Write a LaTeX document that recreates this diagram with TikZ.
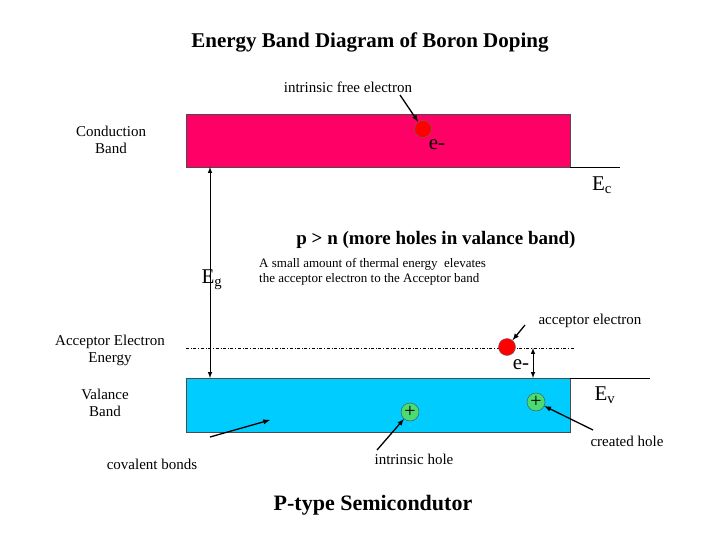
\documentclass[tikz,border=0pt]{standalone}
\usepackage{fontspec}
\setmainfont{Liberation Serif}
\begin{document}
\begin{tikzpicture}[x=1pt,y=-1pt,
  lbl/.style={inner sep=0pt,font=\fontsize{15}{17}\selectfont,align=center},
  arr/.style={-latex,line width=1.3pt},
  dbl/.style={latex-latex,line width=1pt},
  elec/.style={circle,draw=black!60,fill=red,minimum size=17pt,inner sep=0pt},
  hole/.style={circle,draw=black!70,fill=green!60!teal!70,minimum size=18pt,inner sep=0pt,font=\fontsize{20}{20}\selectfont}]
\useasboundingbox (0,0) rectangle (720,540);
\fill[white] (0,0) rectangle (720,540);
\definecolor{cb}{HTML}{FF0066}\definecolor{vb}{HTML}{00CCFF}
\draw[fill=cb,draw=black!70] (186,114) rectangle (570,167);
\draw[fill=vb,draw=black!70] (186,378) rectangle (570,432);
\draw (570,167) -- (620,167);
\draw (570,378) -- (650,378);
\draw[dash dot] (186,348) -- (575,348);
\coordinate (ctop) at (210,167); \coordinate (vtop) at (210,378);
\draw[dbl] (ctop) -- (vtop);
\coordinate (at) at (533,348); \coordinate (ab) at (533,378);
\draw[dbl] (at) -- (ab);
\node[elec] (ce) at (423,129) {};
\node[elec] (ae) at (507,347) {};
\node[hole] (h1) at (410,412) {+};
\node[hole] (h2) at (536,402) {+};
\node[lbl,font=\bfseries\fontsize{21}{24}\selectfont] (title) at (370,42) {Energy Band Diagram of Boron Doping};
\node[lbl] (ife) at (348,87) {intrinsic free electron};
\draw[arr] (400,95) -- (ce);
\node[lbl,font=\fontsize{21}{21}\selectfont] (e1) at (437,145) {e-};
\node[lbl] (cond) at (111,140) {Conduction\\Band};
\node[lbl,font=\fontsize{21}{21}\selectfont] (ec) at (602,185) {E\textsubscript{c}};
\node[lbl,font=\bfseries\fontsize{19}{21}\selectfont] (pn) at (436,240) {p > n (more holes in valance band)};
\node[lbl,font=\fontsize{21}{21}\selectfont] (eg) at (212,280) {E\textsubscript{g}};
\node[lbl,font=\fontsize{13}{15}\selectfont,align=left,anchor=west] (small) at (259,272) {A small amount of thermal energy\ \ elevates\\the acceptor electron to the Acceptor band};
\node[lbl] (accl) at (590,321) {acceptor electron};
\draw[arr] (525,325) -- (ae);
\node[lbl,font=\fontsize{21}{21}\selectfont] (e2) at (521,365) {e-};
\node[lbl] (aee) at (110,350) {Acceptor Electron\\Energy};
\node[lbl] (val) at (105,403) {Valance\\Band};
\node[lbl,font=\fontsize{21}{21}\selectfont] (ev) at (605,395) {E\textsubscript{v}};
\node[lbl] (cov) at (152,464) {covalent bonds};
\coordinate (covt) at (270,420);
\draw[arr] (210,437) -- (covt);
\node[lbl] (ih) at (414,459) {intrinsic hole};
\draw[arr] (377,450) -- (h1);
\node[lbl] (crh) at (627,441) {created hole};
\draw[arr] (593,430) -- (h2);
\node[lbl,font=\bfseries\fontsize{22}{24}\selectfont] (pt) at (373,505) {P-type Semicondutor};
\end{tikzpicture}
\end{document}
